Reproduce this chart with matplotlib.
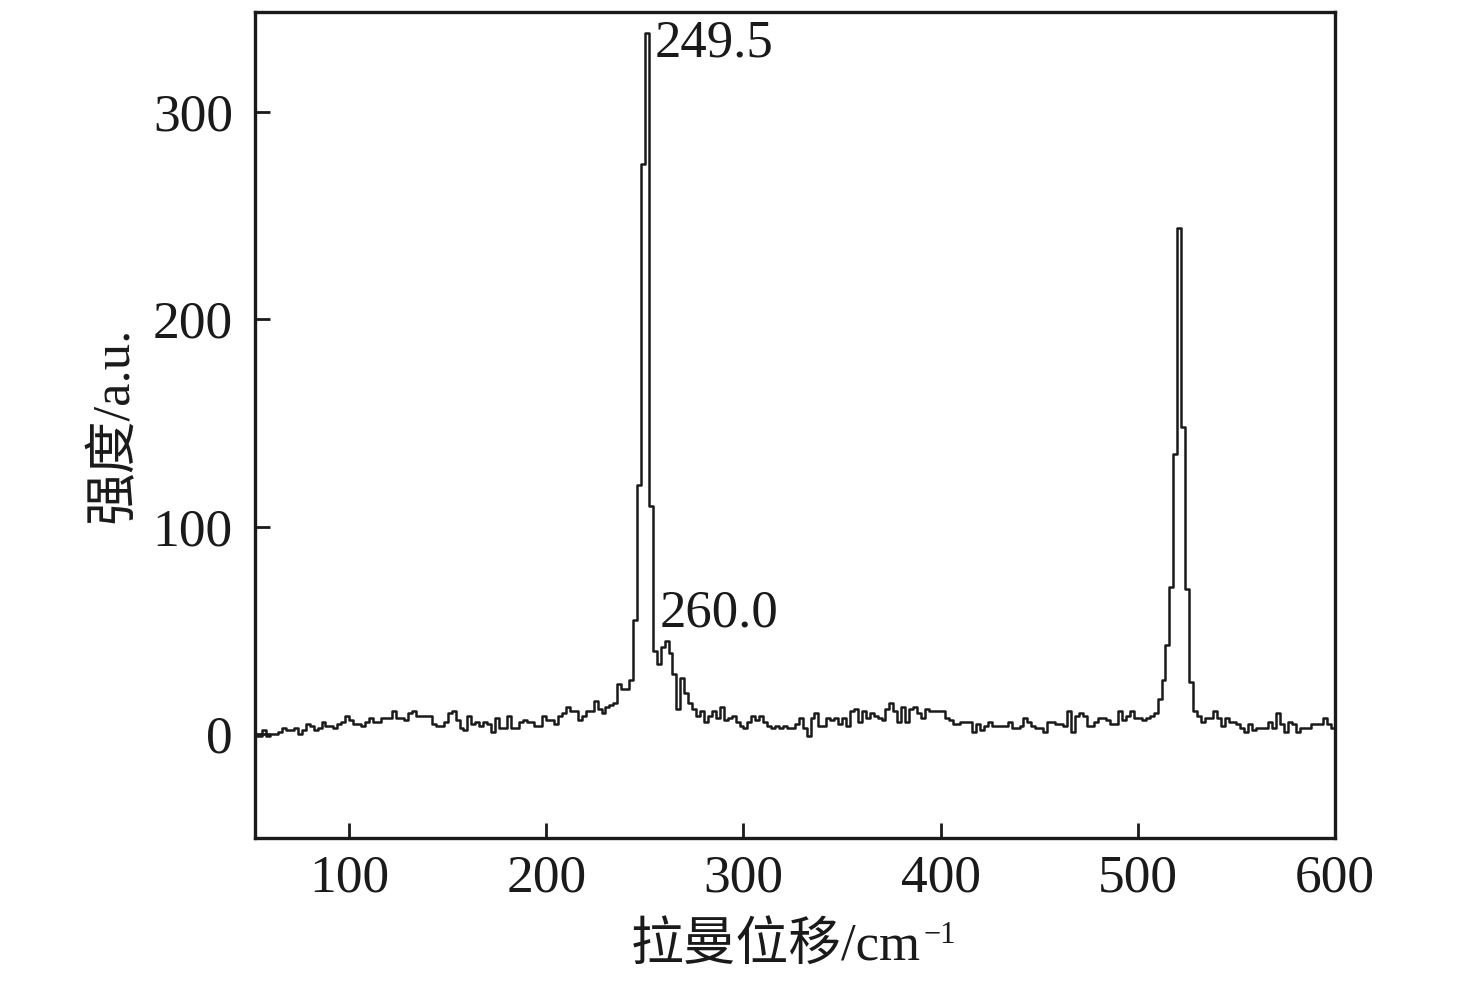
import numpy as np
import matplotlib
matplotlib.use("Agg")
import matplotlib.pyplot as plt

plt.rcParams['font.family'] = ['Liberation Serif', 'Noto Sans CJK SC', 'DejaVu Sans']
plt.rcParams['axes.unicode_minus'] = True

# Raman shift (cm^-1), sampled every 2 cm^-1
raman_shift = np.arange(51, 600, 2)

# Intensity (a.u.)
intensity = [
    -2, -1, -1, 2, -1, 0, 0, 1, 3, 2,
    2, 3, 0, 2, 5, 4, 2, 3, 6, 4,
    4, 3, 5, 6, 9, 7, 5, 5, 4, 6,
    8, 6, 6, 8, 8, 8, 11, 8, 8, 7,
    10, 11, 9, 9, 9, 9, 5, 4, 4, 6,
    10, 11, 7, 3, 2, 9, 5, 6, 4, 6,
    5, 1, 8, 3, 3, 9, 3, 3, 6, 7,
    6, 6, 4, 4, 9, 7, 7, 5, 9, 10,
    13, 11, 11, 7, 9, 11, 11, 16, 12, 10,
    13, 14, 15, 24, 22, 22, 26, 55, 120, 275,
    338, 110, 40, 34, 42, 45, 39, 29, 12, 27,
    20, 15, 12, 9, 11, 6, 9, 11, 8, 13,
    7, 8, 9, 6, 4, 3, 6, 9, 7, 9,
    6, 4, 3, 4, 3, 4, 3, 3, 5, 8,
    3, -1, 8, 10, 4, 4, 8, 7, 8, 5,
    8, 4, 11, 12, 6, 11, 8, 10, 9, 8,
    7, 12, 15, 11, 6, 13, 6, 12, 13, 10,
    8, 12, 11, 11, 11, 11, 8, 7, 5, 5,
    6, 6, 6, 1, 5, 2, 4, 6, 4, 4,
    4, 4, 6, 3, 3, 4, 8, 6, 4, 3,
    3, 1, 6, 6, 5, 5, 4, 11, 1, 9,
    10, 9, 4, 4, 6, 8, 8, 7, 5, 5,
    11, 7, 9, 11, 8, 8, 7, 8, 9, 10,
    17, 26, 43, 71, 135, 244, 148, 70, 25, 11,
    9, 6, 8, 8, 11, 8, 4, 8, 6, 6,
    5, 3, 1, 5, 2, 3, 3, 3, 6, 3,
    10, 5, 1, 6, 5, 1, 3, 3, 3, 5,
    5, 5, 8, 5, 3,
]

peak_labels = ["249.5", "260.0"]
peak_label_pos = [(255.0, 333.0), (257.5, 58.0)]

x_ticks = [100, 200, 300, 400, 500, 600]
y_ticks = [0, 100, 200, 300]

fig = plt.figure(figsize=(14.76, 9.84), dpi=100)
ax = fig.add_axes([0.1728, 0.1484, 0.9045 - 0.1728, 0.9878 - 0.1484])

ax.plot(raman_shift, intensity, drawstyle='steps-mid', color='#1a1a1a', lw=1.8)

for lab, (lx, ly) in zip(peak_labels, peak_label_pos):
    ax.text(lx, ly, lab, fontsize=38, ha='left', va='center', color='#1a1a1a')

ax.set_xlim(52.3, 600)
ax.set_ylim(-50, 348)
ax.set_xticks(x_ticks)
ax.set_yticks(y_ticks)

ax.tick_params(axis='both', direction='in', length=11, width=2, labelsize=38.5,
               colors='#1a1a1a', top=False, right=False)
ax.tick_params(axis='x', pad=12)
ax.tick_params(axis='y', pad=16)
for sp in ax.spines.values():
    sp.set_linewidth(2.4)
    sp.set_color('#1a1a1a')

xl = ax.set_xlabel('拉曼位移/cm', fontsize=38, labelpad=14, color='#1a1a1a')
xl.set_x(0.482)
ax.annotate('\u22121', xy=(1.0, 1.0), xycoords=xl, xytext=(2, 1),
            textcoords='offset points', fontsize=22, ha='left', va='top',
            color='#1a1a1a')
ax.set_ylabel('强度/a.u.', fontsize=38, labelpad=10, color='#1a1a1a')

fig.savefig('out.png', dpi=100)
